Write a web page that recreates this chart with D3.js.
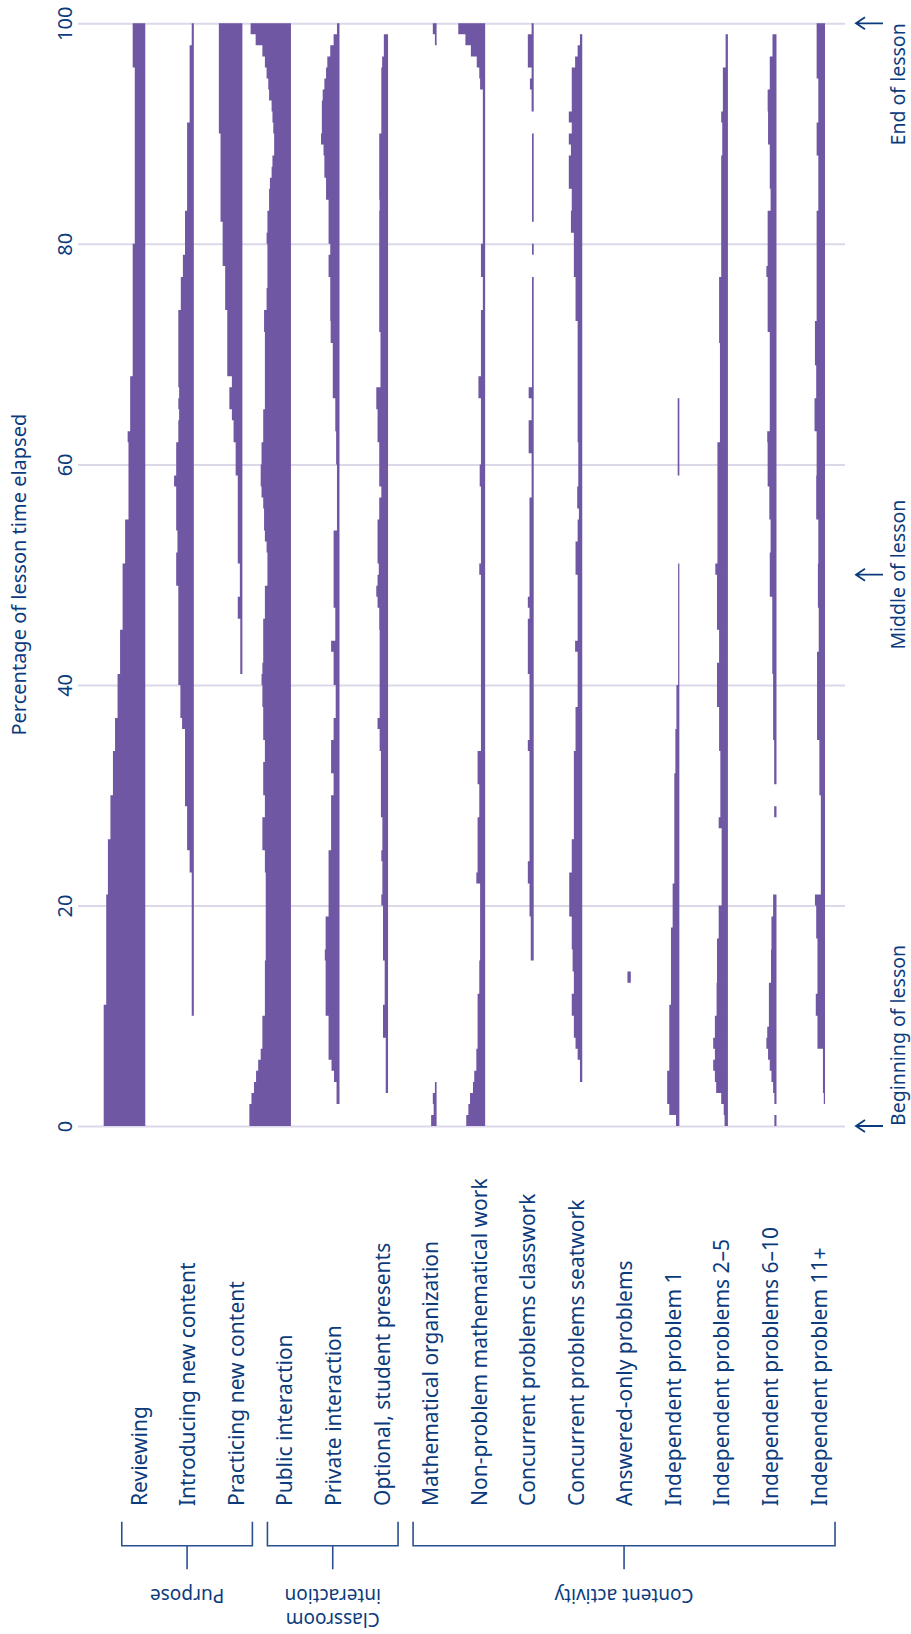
<!DOCTYPE html>
<html><head><meta charset="utf-8">
<script src="https://cdn.jsdelivr.net/npm/d3@7"></script>
<style>
body{margin:0;background:#fff}
svg{display:block}
</style>
</head><body>
<svg id="chart" width="911" height="1634"></svg>
<script>
// ---------- DATA ----------
const categories = [
  "Reviewing","Introducing new content","Practicing new content",
  "Public interaction","Private interaction","Optional, student presents",
  "Mathematical organization","Non-problem mathematical work",
  "Concurrent problems classwork","Concurrent problems seatwork",
  "Answered-only problems","Independent problem 1","Independent problems 2–5",
  "Independent problems 6–10","Independent problem 11+"
];
const groupNames = [["Purpose"],["Classroom","interaction"],["Content activity"]];
const groupFirst = [0,3,6];
const groupLast = [2,5,14];
const tickValues = [0,20,40,60,80,100];
const markValues = [0,50,100];
const markLabels = ["Beginning of lesson","Middle of lesson","End of lesson"];
const axisTitle = "Percentage of lesson time elapsed";

// share of lessons (%) in each 1% bin of lesson time, bins 0..99
const reviewing = [
 99,99,99,99,99,99,99,99,99,99,
 99,93,93,93,93,93,93,93,93,93,
 93,89,89,89,89,89,83,83,83,83,
 77,77,77,77,72,72,72,66,66,66,
 66,60,60,60,60,54,54,54,54,54,
 54,48,48,48,48,40,40,40,40,40,
 40,40,42,36,36,36,36,36,30,30,
 30,30,30,30,30,30,30,30,30,30,
 25,25,25,25,25,25,25,25,25,25,
 25,25,25,25,25,25,30,30,30,30];
const introducing = [
 0,0,0,0,0,0,0,0,0,0,
 5,5,5,5,5,5,5,5,5,5,
 5,5,5,10,10,16,16,16,16,21,
 21,21,21,21,21,21,28,32,32,32,
 37,37,37,37,37,37,37,37,37,42,
 42,42,39,39,42,42,42,42,47,42,
 42,42,37,37,35,37,35,37,37,37,
 37,37,37,37,31,31,31,26,26,21,
 21,21,21,16,16,16,16,16,16,16,
 16,10,10,10,10,10,10,10,5,5];
const practicing = [
 0,0,0,0,0,0,0,0,0,0,
 0,0,0,0,0,0,0,0,0,0,
 0,0,0,0,0,0,0,0,0,0,
 0,0,0,0,0,0,0,0,0,0,
 0,5,5,5,5,5,11,11,6,6,
 6,11,11,11,11,11,11,11,11,16,
 16,16,21,21,25,31,31,25,36,36,
 36,36,36,36,41,41,41,41,47,47,
 47,47,52,52,52,52,52,52,52,52,
 56,56,56,56,56,56,56,56,56,56];
const publicInt = [
 99,99,94,88,83,78,72,68,68,68,
 62,62,62,62,62,60,60,60,60,60,
 60,60,60,62,62,68,68,68,62,62,
 66,66,66,62,62,66,66,66,68,68,
 70,68,66,66,66,66,62,62,62,56,
 56,56,58,62,64,64,66,70,72,72,
 70,70,66,66,66,62,62,62,62,62,
 62,62,64,64,58,58,56,56,56,56,
 58,56,56,52,52,50,46,44,40,40,
 42,44,46,52,54,58,62,68,84,96];
const privateInt = [
 0,0,7,7,13,19,26,26,26,26,
 33,33,33,33,33,35,33,33,33,26,
 26,26,26,26,26,20,20,20,20,20,
 14,14,20,20,20,14,14,9,9,9,
 14,14,14,20,10,10,10,14,14,14,
 14,14,14,14,6,6,6,6,6,6,
 8,8,8,10,10,10,16,16,16,16,
 16,21,21,22,22,22,22,26,26,22,
 26,26,26,26,32,32,36,36,38,44,
 42,42,42,40,36,32,29,22,14,6];
const optionalPres = [
 0,0,0,5.5,5.5,5.5,5.5,5.5,12,12,
 12,8,8,8,8,12,12,12,12,12,
 16,13.5,13.5,13.5,16,13.5,13.5,13.5,17,17,
 17,17,17,17,20,20,25,20,20,20,
 20,20,20,20,20,21,21,25,28,25,
 22,25,25,25,25,21,21,16,21,21,
 21,21,25,25,25,28,28,18,18,18,
 18,18,21,21,21,21,21,21,21,21,
 21,21,21,20,21,21,21,21,21,21,
 16,16,16,16,16,16,14,10,10,0];
const mathOrg = [
 13,7,9,4,0,0,0,0,0,0,
 0,0,0,0,0,0,0,0,0,0,
 0,0,0,0,0,0,0,0,0,0,
 0,0,0,0,0,0,0,0,0,0,
 0,0,0,0,0,0,0,0,0,0,
 0,0,0,0,0,0,0,0,0,0,
 0,0,0,0,0,0,0,0,0,0,
 0,0,0,0,0,0,0,0,0,0,
 0,0,0,0,0,0,0,0,0,0,
 0,0,0,0,0,0,0,0,4,9];
const nonProblem = [
 45,40,36,29,26,21,21,18,18,18,
 18,18,14,14,14,12,12,12,12,12,
 12,12,21,18,18,18,18,18,14,14,
 14,18,18,18,10,10,10,10,10,10,
 10,10,10,10,10,10,10,10,10,10,
 14,10,10,10,10,10,10,10,13,13,
 10,10,10,10,10,10,16,16,10,10,
 10,10,10,10,5.5,5.5,5.5,10,10,10,
 5.5,5.5,5.5,5.5,5.5,5.5,5.5,5.5,5.5,5.5,
 5.5,5.5,5.5,5.5,12,14,20,34,47,64];
const concClass = [
 0,0,0,0,0,0,0,0,0,0,
 0,0,0,0,0,7,7,7,7,10,
 10,10,14,14,10,10,10,10,10,10,
 10,10,10,10,14,10,10,10,10,10,
 10,14,14,14,14,14,10,14,10,10,
 10,10,10,10,10,10,10,5,5,5,
 5,12,12,12,5,5,12,4,4,4,
 4,4,4,4,4,4,4,0,0,4,
 0,0,4,4,4,4,4,4,4,4,
 0,0,5,5,9,5,14,14,14,5];
const concSeat = [
 0,0,0,0,5.5,5.5,11,16,20,20,
 25,25,20,20,23,23,25,25,25,31,
 31,31,31,25,25,25,20,20,20,20,
 20,20,20,20,16,16,16,16,11,11,
 11,11,11,17,11,11,11,11,11,11,
 16,16,16,11,11,8,12,12,9.5,9.5,
 9.5,9.5,11,11,11,11,11,11,11,11,
 11,11,11,16,16,16,16,20,20,20,
 20,27,27,25,25,32,32,32,27,32,
 25,32,25,25,25,25,17,11,5.5,0];
const answeredOnly = [
 0,0,0,0,0,0,0,0,0,0,
 0,0,0,8,0,0,0,0,0,0,
 0,0,0,0,0,0,0,0,0,0,
 0,0,0,0,0,0,0,0,0,0,
 0,0,0,0,0,0,0,0,0,0,
 0,0,0,0,0,0,0,0,0,0,
 0,0,0,0,0,0,0,0,0,0,
 0,0,0,0,0,0,0,0,0,0,
 0,0,0,0,0,0,0,0,0,0,
 0,0,0,0,0,0,0,0,0,0];
const indep1 = [
 8,24,29,29,29,24,24,24,24,24,
 24,20,20,20,20,20,20,20,16,16,
 16,16,12,12,12,12,12,12,12,12,
 12,12,9.5,9.5,9.5,9.5,7,7,7,7,
 3,3,3,3,3,3,3,3,3,3,
 3,0,0,0,0,0,0,0,0,4,
 4,4,4,4,4,4,0,0,0,0,
 0,0,0,0,0,0,0,0,0,0,
 0,0,0,0,0,0,0,0,0,0,
 0,0,0,0,0,0,0,0,0,0];
const indep2to5 = [
 8,10,16,28,31,35,31,35,31,31,
 27,27,27,26,26,26,26,22,22,22,
 15,15,15,15,15,15,15,22,18,18,
 18,18,18,18,21,21,21,21,26,26,
 26,26,21,21,21,26,26,26,26,26,
 30,25,25,25,25,25,25,25,25,25,
 25,25,19,19,19,19,19,19,19,19,
 19,21,21,21,21,21,21,16,16,16,
 16,16,16,16,16,16,16,16,13.5,13.5,
 13.5,16,12,12,12,12,5.5,5.5,5.5,0];
const indep6to10 = [
 5,0,5,8,12,16,20,24,22,18,
 18,18,18,13,13,13,12,12,12,8,
 8,0,0,0,0,0,0,0,5.5,0,
 0,5.5,5.5,5.5,5.5,8,8,8,8,8,
 8,10,10,10,10,10,10,10,16,16,
 16,16,14,14,14,17,17,17,21,21,
 21,21,22,16,16,16,16,16,16,16,
 16,16,21,21,21,21,21,24,21,21,
 21,21,21,14,14,16,16,16,16,20,
 20,20,21,21,16,16,16,9.5,9.5,0];
const indep11plus = [
 0,0,3,5,5,5,5,18,18,18,
 22,22,18,18,18,18,18,21,21,21,
 24,10,10,10,10,10,10,10,10,10,
 13.5,13.5,13.5,13.5,13.5,19,19,19,19,19,
 19,19,19,15,15,15,15,17,17,17,
 17,16,16,16,16,21,21,21,21,20,
 20,20,20,25,25,25,21,21,21,24,
 24,24,24,20,20,20,20,20,20,20,
 20,20,20,16,16,16,16,16,20,20,
 20,16,16,16,16,20,20,20,20,20];

const seriesValues = [reviewing,introducing,practicing,publicInt,privateInt,optionalPres,
  mathOrg,nonProblem,concClass,concSeat,answeredOnly,indep1,indep2to5,indep6to10,indep11plus];

// ---------- DRAWING ----------
const ink = "#0b3b7d";
const barColor = "#7057a3";
const font = "'Noto Sans', 'Open Sans', sans-serif";
const svg = d3.select("#chart");

const x = d3.scaleBand().domain(categories).range([100, 828.3])
  .paddingInner(0.135).paddingOuter(0.0675);
const y = d3.scaleLinear().domain([0,100]).range([1126, 23.3]);
const w = d3.scaleLinear().domain([0,100]).range([0, x.bandwidth()]);
const rightEdge = c => x(c) + x.bandwidth();

// grid + tick labels
const gridLeft = 78, gridRight = 845;
const axis = d3.axisLeft(y).tickValues(tickValues).tickSize(-(gridRight-gridLeft)).tickPadding(0);
const ag = svg.append("g").attr("transform",`translate(${gridLeft},0)`).call(axis)
  .attr("font-family", font).attr("font-size", 20);
ag.select(".domain").remove();
ag.selectAll(".tick line").attr("stroke","#dcd8ea").attr("stroke-width",2);
ag.selectAll(".tick text")
  .attr("x",null).attr("dy",null)
  .attr("transform","translate(-6.3,0) rotate(-90)")
  .attr("text-anchor","middle").attr("fill", ink);

// axis title
svg.append("text")
  .attr("transform",`translate(26,${(y(0)+y(100))/2}) rotate(-90)`)
  .attr("text-anchor","middle").attr("font-family",font).attr("font-size",20)
  .attr("fill",ink).text(axisTitle);

// bars (step areas growing leftward from a fixed right edge)
const area = d3.area().curve(d3.curveStepBefore);
categories.forEach((c,ci) => {
  const vals = seriesValues[ci];
  const pts = vals.map((v,i)=>({p:i, v:v}));
  pts.push({p:100, v:vals[vals.length-1]});
  const r = rightEdge(c);
  area.y(d=>y(d.p)).x0(r).x1(d=>r - w(d.v));
  svg.append("path").attr("d", area(pts)).attr("fill", barColor);
});

// category labels
svg.append("g").selectAll("text").data(categories).join("text")
  .attr("transform", c => `translate(${rightEdge(c)+1.5},1506) rotate(-90)`)
  .attr("text-anchor","start").attr("font-family",font).attr("font-size",21)
  .attr("fill",ink).text(c=>c);

// group brackets
groupNames.forEach((names,gi) => {
  const l = rightEdge(categories[groupFirst[gi]]) - 23.5;
  const r = rightEdge(categories[groupLast[gi]]) + 10;
  const m = (l+r)/2;
  svg.append("path")
    .attr("d",`M${l},1521.7V1545.7H${r}V1521.7M${m},1545.7V1569.3`)
    .attr("fill","none").attr("stroke","#2a5092").attr("stroke-width",1.6);
  const baseY = names.length > 1 ? 1613 : 1589;
  const t = svg.append("g").attr("transform",`translate(${m},${baseY}) rotate(180)`);
  names.forEach((n,k) => {
    t.append("text").attr("y", k*24).attr("text-anchor","middle")
      .attr("font-family",font).attr("font-size",19).attr("fill",ink).text(n);
  });
});

// lesson markers on the right
const anchors = ["start","middle","end"];
markValues.forEach((p,i) => {
  const yy = y(p);
  svg.append("path")
    .attr("d",`M883,${yy}H856M865,${yy-6}L856,${yy}L865,${yy+6}`)
    .attr("fill","none").attr("stroke",ink).attr("stroke-width",1.8);
  svg.append("text")
    .attr("transform",`translate(904.5,${yy}) rotate(-90)`)
    .attr("text-anchor",anchors[i]).attr("font-family",font).attr("font-size",19.5)
    .attr("fill",ink).text(markLabels[i]);
});
</script>
</body></html>
